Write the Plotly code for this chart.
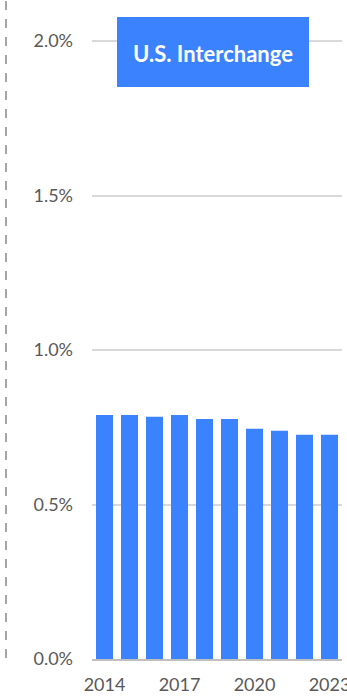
import plotly.graph_objects as go

years = ["2014", "2015", "2016", "2017", "2018", "2019", "2020", "2021", "2022", "2023"]
rates = [0.790, 0.790, 0.784, 0.790, 0.777, 0.777, 0.745, 0.739, 0.726, 0.726]
shown_years = ["2014", "2017", "2020", "2023"]
y_ticks = [0, 0.5, 1.0, 1.5, 2.0]
y_labels = ["0.0%", "0.5%", "1.0%", "1.5%", "2.0%"]
title_text = "U.S. Interchange"

blue = "#3B82FF"
font_fam = "Lato"

# plot area: y=0 at 659px, top edge at 35px (range to 2.02)
H = 624.0
def py(p):
    return (659 - p) / H

fig = go.Figure()
fig.add_trace(go.Bar(x=years, y=rates, marker=dict(color=blue, line=dict(width=0)), width=0.68))

fig.update_layout(
    width=347, height=697,
    margin=dict(l=92, r=5, t=35, b=38, autoexpand=False),
    paper_bgcolor="white", plot_bgcolor="white",
    showlegend=False,
    font=dict(family=font_fam, size=18, color="#595959"),
)
fig.update_xaxes(
    type="category", tickmode="array", tickvals=shown_years, ticktext=shown_years,
    showgrid=False, showline=True, linecolor="#BFBFBF", linewidth=2,
    ticks="", ticklabelstandoff=8, automargin=False,
    tickfont=dict(family=font_fam, size=18, color="#595959"),
)
fig.update_yaxes(
    range=[0, 2.02], tickmode="array", tickvals=y_ticks, ticktext=y_labels,
    showgrid=True, gridcolor="#D9D9D9", gridwidth=2, zeroline=False,
    showline=False, ticks="", ticklabelstandoff=18, automargin=False,
    tickfont=dict(family=font_fam, size=18, color="#595959"),
)

# dashed vertical separator on the left
fig.add_shape(type="line", xref="paper", yref="paper",
              x0=-0.344, x1=-0.344, y0=py(658), y1=py(0),
              line=dict(color="#A6A6A6", width=2, dash="dash"))

# title box
fig.add_shape(type="rect", xref="paper", yref="paper",
              x0=0.1, x1=0.868, y0=py(87), y1=py(17),
              fillcolor=blue, line=dict(width=0), layer="above")
fig.add_annotation(xref="paper", yref="paper", x=0.484, y=py(53),
                   text="<b>" + title_text + "</b>", showarrow=False,
                   font=dict(family=font_fam, size=22, color="white"),
                   xanchor="center", yanchor="middle")

fig.write_html("out.html")
